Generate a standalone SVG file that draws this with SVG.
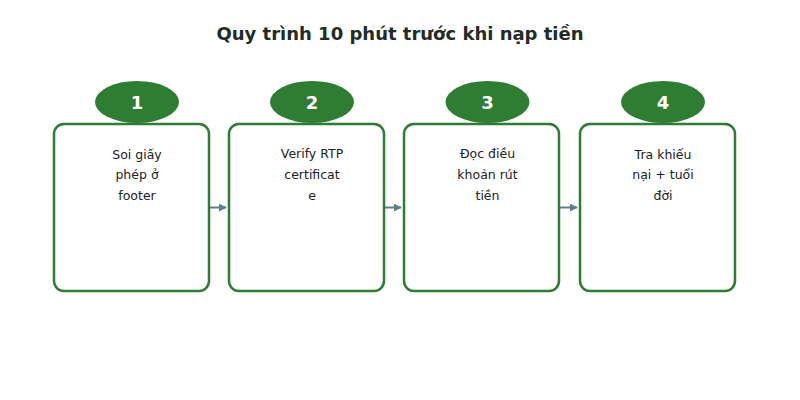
<svg xmlns="http://www.w3.org/2000/svg" width="800" height="400" viewBox="0 0 800 400">
<style>
.title{font-family:"DejaVu Sans",Verdana,sans-serif;font-size:18px;font-weight:bold;fill:#212b27;text-anchor:middle}
.box{fill:#fff;stroke:#2e7d32;stroke-width:2.5}
.badge{fill:#2e7d32}
.num{font-family:"DejaVu Sans",sans-serif;font-size:18px;font-weight:bold;fill:#fff;text-anchor:middle}
.lbl{font-family:"DejaVu Sans",sans-serif;font-size:12.5px;fill:#222;text-anchor:middle}
.conn{stroke:#607d8b;stroke-width:2;fill:none}
</style>
<defs>
<marker id="ah" viewBox="0 0 10 10" refX="9" refY="5" markerWidth="4" markerHeight="4" orient="auto"><path d="M0,0L10,5L0,10z" fill="#607d8b"/></marker>
</defs>
<rect width="800" height="400" fill="#fff"/>
<text class="title" x="400" y="40">Quy trình 10 phút trước khi nạp tiền</text>
<g id="connectors">
<line class="conn" x1="210" y1="207.5" x2="226" y2="207.5" marker-end="url(#ah)"/>
<line class="conn" x1="385" y1="207.5" x2="401" y2="207.5" marker-end="url(#ah)"/>
<line class="conn" x1="560" y1="207.5" x2="577" y2="207.5" marker-end="url(#ah)"/>
</g>
<g id="step1">
<rect class="box" x="54" y="124" width="155" height="167" rx="10"/>
<ellipse class="badge" cx="137" cy="102" rx="42" ry="21"/>
<text class="num" x="137" y="108.5">1</text>
<text class="lbl" x="137" y="159">Soi giấy</text>
<text class="lbl" x="137" y="179">phép ở</text>
<text class="lbl" x="137" y="200">footer</text>
</g>
<g id="step2">
<rect class="box" x="229" y="124" width="155" height="167" rx="10"/>
<ellipse class="badge" cx="312" cy="102" rx="42" ry="21"/>
<text class="num" x="312" y="108.5">2</text>
<text class="lbl" x="312" y="158">Verify RTP</text>
<text class="lbl" x="312" y="179">certificat</text>
<text class="lbl" x="312" y="200">e</text>
</g>
<g id="step3">
<rect class="box" x="404" y="124" width="155" height="167" rx="10"/>
<ellipse class="badge" cx="487.5" cy="102" rx="42" ry="21"/>
<text class="num" x="487.5" y="108.5">3</text>
<text class="lbl" x="487.5" y="158">Đọc điều</text>
<text class="lbl" x="487.5" y="179">khoản rút</text>
<text class="lbl" x="487.5" y="200">tiền</text>
</g>
<g id="step4">
<rect class="box" x="580" y="124" width="155" height="167" rx="10"/>
<ellipse class="badge" cx="663" cy="102" rx="42" ry="21"/>
<text class="num" x="663" y="108.5">4</text>
<text class="lbl" x="663" y="159">Tra khiếu</text>
<text class="lbl" x="663" y="179">nại + tuổi</text>
<text class="lbl" x="663" y="200">đời</text>
</g>
</svg>
